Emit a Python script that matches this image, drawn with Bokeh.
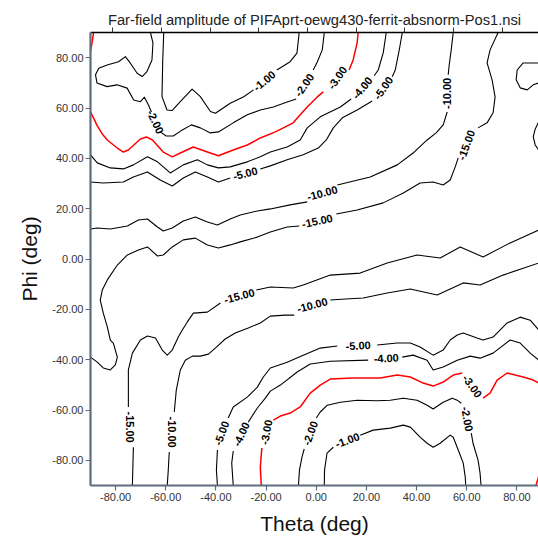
import re
from bokeh.plotting import figure
from bokeh.models import (LinearAxis, FixedTicker, PrintfTickFormatter, Range1d, ColumnDataSource,
                          CustomJSTickFormatter)
from bokeh.core.properties import value
from bokeh.embed import file_html
from bokeh.resources import INLINE

NAN = float("nan")

# ---------------- data (theta, phi) in degrees; None = gap for a label ----------------
title_text = "Far-field amplitude of PIFAprt-oewg430-ferrit-absnorm-Pos1.nsi"
tick_vals = [-80, -60, -40, -20, 0, 20, 40, 60, 80]
top_ticks = [-81.3, -61.6, -42.2, -22.9, -3.5, 15.9, 35.3, 54.7, 74.3]

m3_corner = [(-88.8, 90), (-89.2, 87), (-90, 82.5)]

m2_top = [(-66.1, 90), (-65.1, 85.9), (-65.5, 79.1), (-67.5, 74.5), (-69.4, 72.5), (-71.4, 73.8),
          (-74.1, 77.8), (-76.1, 80.4), (-78.8, 78.4), (-83.4, 77.1), (-86.7, 75.8), (-88.0, 73.2),
          (-87.4, 69.9), (-83.4, 68.5), (-79.4, 69.2), (-75.4, 67.9), (-72.8, 63.2), (-70.1, 62.5),
          (-68.5, 64.3), (-66.9, 61.2), (-65.7, 58.4), None,
          (-62.2, 50.5), (-59.8, 48.9), (-57.0, 48.9), (-53.4, 51.3), (-49.8, 53.3), (-46.2, 52.1),
          (-42.2, 50.1), (-39.0, 50.5), (-33.1, 54.1), (-27.5, 57.3), (-22.3, 59.2), (-17.1, 60.4),
          (-11.6, 62.4), (-8.0, 63.6), None,
          (-1.2, 75.1), (0.4, 78.3), (2.4, 83.1), (3.2, 90)]

m1_top = [(-60.8, 90), (-61.2, 79.1), (-61.5, 64.5), (-59.5, 59.2), (-57.5, 59.0), (-54.2, 62.5),
          (-49.5, 67.5), (-46.2, 64.5), (-42.2, 58.6), (-40.2, 57.9), (-34.3, 61.9), (-28.9, 64.5),
          (-25.0, 67.2), None,
          (-15.7, 75.1), (-10.4, 78.4), (-7.7, 81.8), (-6.8, 90)]

m3_top = [(-90, 58.4), (-88.8, 56.1), (-87.3, 52.9), (-85.3, 49.7), (-83.3, 47.3), (-79.3, 44.1),
          (-76.9, 42.5), (-74.9, 43.3), (-70.1, 47.7), (-67.7, 48.5), (-65.3, 47.3), (-61.0, 42.5),
          (-57.4, 40.6), (-54.2, 42.1), (-49.0, 44.5), (-43.4, 42.5), (-39.0, 41.0), (-33.1, 43.3),
          (-27.5, 45.3), (-22.3, 48.1), (-16.3, 50.5), (-13.1, 52.1), (-9.2, 54.1), (-6.4, 57.3),
          (-3.6, 60.4), (0.4, 64.4), (2.8, 66.4), None,
          (13.1, 75.1), (14.7, 79.1), (16.3, 85.9), (16.7, 90)]

m4_top = [(27.9, 90), (26.7, 81.9), (24.7, 75.1), (23.1, 72.8), None,
          (13.9, 63.6), (9.6, 60.4), (1.6, 56.5), (-3.6, 52.1), (-6.4, 47.3), (-11.6, 44.5),
          (-18.3, 42.5), (-22.3, 40.6), (-27.5, 38.6), (-34.3, 36.6), (-39.0, 36.2), (-43.4, 37.4),
          (-47.4, 39.4), (-53.0, 37.4), (-58.2, 34.2), (-63.3, 38.6), (-67.3, 40.6), (-72.9, 37.4),
          (-76.9, 35.8), (-82.1, 36.2), (-87.3, 38.2), (-90, 41.4)]

m5_top = [(34.3, 90), (33.1, 83.1), (31.5, 75.1), (30.3, 72.4), None,
          (22.3, 62.8), (16.3, 59.2), (10.4, 56.1), (6.8, 52.1), (4.0, 47.3), (0.8, 44.1),
          (-5.2, 41.4), (-11.6, 39.4), (-18.3, 37.0), (-22.3, 35.8), None,
          (-34.3, 32.2), (-39.0, 30.6), (-43.4, 32.6), (-48.2, 34.6), (-53.0, 32.2), (-57.4, 29.0),
          (-62.2, 31.4), (-67.3, 34.6), (-72.9, 32.6), (-76.9, 30.6), (-84.9, 30.2), (-90, 30.6)]

m10_top = [(54.6, 90), (53.8, 83.1), (53.0, 77.1), (52.6, 73.2), None,
           (52.2, 58.4), (50.6, 53.3), (47.8, 50.1), (44.2, 47.3), (38.6, 42.1), (32.3, 37.4),
           (21.5, 32.6), (8.4, 29.4), None,
           (-3.6, 22.7), (-10.4, 21.5), (-18.3, 19.9), (-23.5, 19.1), (-30.3, 17.5), (-34.3, 15.9),
           (-39.4, 13.5), (-43.4, 14.7), (-48.2, 16.7), (-53.0, 15.1), (-57.4, 12.3), (-61.0, 11.1),
           (-63.3, 12.7), (-67.3, 15.9), (-70.9, 15.5), (-75.3, 13.1), (-82.1, 11.9), (-87.3, 12.3),
           (-90, 11.9)]

m15_top = [(72.5, 90), (69.3, 83.1), (68.1, 77.9), (70.1, 71.2), (71.3, 64.4), (70.5, 58.1),
           (68.1, 54.1), (64.5, 52.1), None,
           (56.6, 40.2), (55.4, 36.6), (53.4, 31.4), (50.6, 29.4), (46.6, 30.6), (41.4, 30.2),
           (34.7, 26.2), (26.7, 22.3), (16.3, 19.5), (8.0, 17.9), None,
           (-6.8, 13.1), (-11.6, 12.7), (-18.3, 10.7), (-23.5, 8.7), (-30.3, 6.8), (-34.3, 5.6),
           (-39.0, 4.4), (-43.4, 5.6), (-48.2, 8.3), (-53.0, 7.6), (-57.4, 4.8), (-61.0, 1.6),
           (-63.3, 1.2), (-67.3, 4.8), (-70.9, 3.6), (-75.3, 1.6), (-79.3, -2.4), (-83.3, -8.3),
           (-85.3, -12.3), (-86.1, -16.3), (-84.9, -21.5), (-83.3, -27.0), (-82.1, -32.2),
           (-80.9, -33.4), (-79.3, -39.0), (-80.1, -42.1), (-82.1, -44.1), (-84.9, -43.3),
           (-87.3, -41.0), (-90, -39.0)]

m20_loop = [(88.7, 77.9), (82.5, 77.9), (80.1, 75.1), (79.7, 71.2), (81.3, 68.0), (84.1, 67.2),
            (86.5, 69.2), (88.7, 70.0)]
m20_arc = [(88.7, 54.5), (87.3, 51.7), (86.5, 48.5), (87.3, 45.3), (88.7, 43.3)]

m15_low = [(-73.3, -90), (-72.9, -74.8), None,
           (-74.9, -58.8), (-74.9, -44.1), (-73.3, -37.4), (-70.1, -32.2), (-67.3, -30.6),
           (-64.1, -31.4), (-61.4, -36.2), (-59.4, -38.2), (-57.4, -36.2), (-55.0, -31.0),
           (-53.4, -28.2), (-51.4, -25.0), (-49.0, -21.5), (-43.4, -21.1), (-38.2, -17.5), None,
           (-23.9, -12.3), (-18.3, -11.1), (-9.2, -11.5), (-5.2, -10.3), (5.6, -6.4), (17.5, -5.6),
           (28.3, -1.6), (40.2, 1.6), (49.4, 0.4), (57.4, 4.8), (66.5, 0.8), (77.3, 6.4), (88.7, 11.5)]

m10_low = [(-59.4, -90), (-59.0, -83.9), (-58.6, -76.7), None,
           (-56.6, -60.8), (-55.8, -52.1), (-54.2, -44.1), (-52.2, -40.2), (-49.4, -38.6),
           (-46.2, -38.6), (-43.0, -37.8), (-39.8, -35.0), (-36.3, -31.8), (-32.3, -29.4),
           (-27.1, -27.4), (-22.3, -25.4), (-18.3, -22.7), (-12.4, -22.3), (-8.8, -22.3), None,
           (5.6, -16.3), (11.6, -15.9), (18.7, -15.5), (28.3, -13.5), (37.5, -11.9), (48.2, -14.3),
           (58.6, -9.5), (65.3, -10.3), (74.5, -6.4), (88.7, -1.6)]

m5_low = [(-39.4, -90), (-39.8, -83.9), (-39.4, -75.9), None,
          (-35.1, -63.2), (-33.1, -58.8), (-27.5, -54.9), (-23.5, -50.9), (-21.1, -46.9),
          (-18.3, -43.3), (-11.6, -41.0), (-5.2, -38.2), (1.6, -35.4), (8.4, -34.6), None,
          (24.3, -34.2), (32.3, -33.4), (37.5, -33.4), (41.4, -35.0), (46.6, -38.2), (50.6, -36.2),
          (53.4, -32.2), (56.2, -30.2), (58.6, -29.4), (64.1, -31.4), (66.5, -32.2), (70.5, -31.0),
          (76.1, -25.4), (81.3, -23.1), (85.3, -24.3), (88.7, -28.2)]

m4_low = [(-33.1, -90), (-33.7, -81.1), (-33.1, -76.3), None,
          (-27.1, -64.8), (-23.5, -59.2), (-20.3, -55.3), (-18.3, -52.5), (-14.3, -50.1),
          (-7.6, -44.9), (-2.4, -41.7), (5.6, -40.6), (20.7, -40.2), None,
          (34.3, -39.0), (38.6, -38.2), (44.2, -40.2), (46.6, -44.1), (50.6, -42.9), (56.2, -40.2),
          (61.4, -38.6), (65.3, -39.4), (70.5, -37.4), (77.3, -32.2), (81.3, -33.4), (85.3, -37.4),
          (88.7, -40.2)]

m3_low = [(-21.9, -90), (-22.3, -82.7), (-21.7, -75.1), None,
          (-17.1, -64.0), (-14.3, -62.4), (-10.4, -61.2), (-6.4, -58.8), (-2.4, -53.3), (1.6, -50.1),
          (5.6, -47.7), (14.7, -47.3), (25.5, -47.3), (32.3, -46.1), (37.5, -46.9), (42.6, -49.3),
          (46.6, -50.5), (50.6, -48.9), (54.6, -46.1), (58.2, -45.3), None,
          (66.5, -55.3), (69.3, -53.3), (72.1, -48.1), (76.1, -45.3), (82.5, -46.9), (86.5, -48.1),
          (88.7, -49.3)]
m3_corner_low = [(88.7, -86.3), (87.6, -90)]

m2_low = [(-7.1, -90), (-6.7, -83.9), (-5.7, -78.7), (-4.8, -75.5), None,
          (0.0, -63.2), (1.6, -60.8), (4.4, -58.1), (9.6, -56.9), (16.3, -56.1), (24.3, -56.3),
          (29.5, -56.1), (34.7, -55.3), (40.2, -56.1), (44.2, -58.1), (46.6, -59.6), (50.6, -56.9),
          (54.2, -55.3), (56.2, -56.1), (57.8, -57.3), None,
          (61.8, -69.2), (62.5, -73.2), (64.5, -79.9), (65.3, -85.1), (65.7, -90)]

m1_low = [(3.2, -90), (3.3, -83.9), (4.3, -77.1), (6.8, -74.8), None,
          (17.5, -70.0), (22.7, -68.0), (29.5, -67.2), (34.7, -66.0), (37.5, -66.8), (41.4, -70.8),
          (44.2, -73.2), (46.6, -74.8), (49.4, -73.2), (53.4, -70.0), (54.6, -70.8), (56.6, -75.9),
          (58.6, -81.1), (59.4, -86.7), (59.6, -90)]

lab_text = ["-2.00", "-2.00", "-1.00", "-3.00", "-4.00", "-5.00", "-5.00", "-10.00", "-10.00",
            "-15.00", "-15.00", "-15.00", "-10.00", "-15.00", "-10.00", "-5.00", "-4.00", "-3.00",
            "-5.00", "-4.00", "-3.00", "-2.00", "-2.00", "-1.00"]
lab_theta = [-64.1, -4.8, -20.7, 8.4, 18.3, 26.7, -28.3, 52.2, 2.4, 59.8, 0.4, -74.1, -57.6,
             -30.7, -1.6, -37.8, -29.9, -19.9, 16.7, 27.9, 62.2, -2.4, 60.2, 12.4]
lab_phi = [54.5, 69.2, 70.8, 72.0, 68.0, 68.0, 34.0, 65.8, 26.2, 45.3, 15.1, -66.8, -68.8,
           -14.7, -18.3, -69.2, -69.6, -68.8, -34.4, -39.4, -50.5, -69.2, -63.6, -72.0]
lab_angle = [-65, 55, 40, 55, 50, 55, 15, 90, 15, 70, 12, -90, -90, 15, 15, 70, 65, 80, 3, 3,
             -55, 70, -80, 20]

black_lines = [m2_top, m1_top, m4_top, m5_top, m10_top, m15_top, m20_loop, m20_arc,
               m15_low, m10_low, m5_low, m4_low, m2_low, m1_low]
red_lines = [m3_corner, m3_top, m3_low, m3_corner_low]

FONT = "Liberation Sans"

p = figure(width=538, height=545, x_range=Range1d(-90, 88.6), y_range=Range1d(-90, 90),
           output_backend="svg", toolbar_location=None,
           min_border_left=90, min_border_right=0, min_border_top=32, min_border_bottom=60,
           background_fill_color=None, border_fill_color=None, outline_line_color=None)
p.xgrid.visible = False
p.ygrid.visible = False

p.title.text = title_text
p.title.align = "center"
p.title.text_font = FONT
p.title.text_font_size = "14.7px"
p.title.text_font_style = "normal"
p.title.text_color = "#222222"
p.title.standoff = 0
p.title.offset = 0

for ax in (p.xaxis[0], p.yaxis[0]):
    ax.ticker = FixedTicker(ticks=tick_vals)
    ax.formatter = PrintfTickFormatter(format="%.2f")
    ax.axis_line_color = "#5d6d7c"
    ax.axis_line_width = 2.2
    ax.major_tick_line_color = "#5d6d7c"
    ax.major_tick_line_width = 1.2
    ax.major_tick_in = 0
    ax.major_tick_out = 5
    ax.minor_tick_line_color = None
    ax.major_label_text_font = FONT
    ax.major_label_text_font_size = "11px"
    ax.major_label_text_color = "#333333"
    ax.major_label_standoff = 2
    ax.axis_label_text_font = FONT
    ax.axis_label_text_font_size = "21px"
    ax.axis_label_text_font_style = "normal"
    ax.axis_label_text_color = "#111111"
    ax.axis_label_standoff = 8
p.xaxis.axis_label = "Theta (deg)"
p.yaxis.axis_label = "Phi (deg)"

top = LinearAxis(ticker=FixedTicker(ticks=top_ticks), axis_line_color="black", axis_line_width=1.3,
                 major_tick_line_color="#333333", major_tick_in=0, major_tick_out=5,
                 minor_tick_line_color=None,
                 formatter=CustomJSTickFormatter(code="return ''"),
                 major_label_standoff=0)
p.add_layout(top, "above")


def to_xy(pts):
    xs, ys = [], []
    for pt in pts:
        if pt is None:
            xs.append(NAN)
            ys.append(NAN)
        else:
            xs.append(pt[0])
            ys.append(pt[1])
    return xs, ys


for line in black_lines:
    xs, ys = to_xy(line)
    p.line(xs, ys, line_color="black", line_width=1.1, line_join="round")
for line in red_lines:
    xs, ys = to_xy(line)
    p.line(xs, ys, line_color="#ff0000", line_width=1.5, line_join="round")

src = ColumnDataSource(dict(x=lab_theta, y=lab_phi, t=lab_text, a=lab_angle))
p.text(x="x", y="y", text="t", angle="a", angle_units="deg", source=src,
       text_font=value(FONT), text_font_size="11px", text_font_style="bold",
       text_color="black", text_align="center", text_baseline="middle")

html = file_html(p, INLINE)
html = re.sub(r"<body([^>]*)>",
              r'<body\1 style="background: linear-gradient(180deg, #b4e2fb 0%, #c3e9fc 50%, #d4f1fd 100%);">',
              html, count=1)
open("out.html", "w").write(html)
